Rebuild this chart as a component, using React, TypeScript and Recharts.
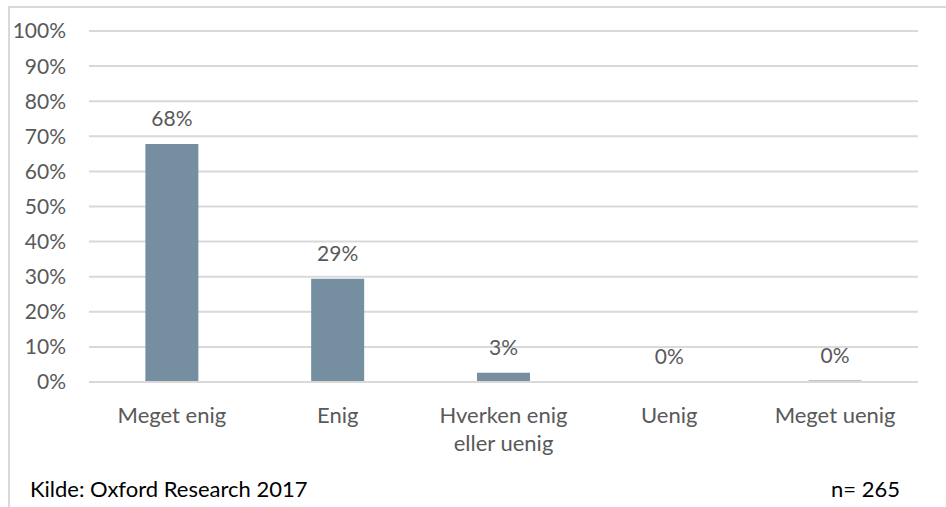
import React from "react";
import { ComposedChart, Bar, Line, XAxis, YAxis, CartesianGrid, LabelList } from "recharts";

const categories = ["Meget enig", "Enig", "Hverken enig\neller uenig", "Uenig", "Meget uenig"];
const shares = [67.8, 29.4, 2.6, 0, 0.4];
const yTicks = [0, 10, 20, 30, 40, 50, 60, 70, 80, 90, 100];

const data = categories.map((name, i) => ({ name, share: shares[i] }));

const FONT = "Lato, 'Liberation Sans', sans-serif";
const TEXT = "#595959";

function CategoryTick(props: any) {
  const { x, y, payload } = props;
  const lines = String(payload.value).split("\n");
  return (
    <text x={x} y={y} textAnchor="middle" fill={TEXT} fontFamily={FONT} fontSize={22}>
      {lines.map((line, i) => (
        <tspan key={i} x={x} dy={i === 0 ? 0 : 28}>
          {line}
        </tspan>
      ))}
    </text>
  );
}

function App() {
  return (
    <div style={{ position: "absolute", left: 0, top: 0, width: 946, height: 507, background: "#fff", overflow: "hidden" }}>
      <div
        style={{
          position: "absolute",
          left: 8,
          top: 6,
          width: 960,
          height: 520,
          borderLeft: "2px solid #d9d9d9",
          borderTop: "2px solid #d9d9d9",
        }}
      />
      <ComposedChart
        width={946}
        height={507}
        data={data}
        margin={{ top: 31, right: 28, bottom: 65, left: 0 }}
        barCategoryGap="34%"
      >
        <CartesianGrid vertical={false} stroke="#d9d9d9" strokeWidth={2} />
        <XAxis
          dataKey="name"
          axisLine={{ stroke: "#d9d9d9", strokeWidth: 2 }}
          tickLine={false}
          tickSize={0}
          height={60}
          interval={0}
          tick={(p: any) => <CategoryTick {...p} y={p.y + 39} />}
        />
        <YAxis
          domain={[0, 100]}
          ticks={yTicks}
          width={89}
          axisLine={false}
          tickLine={false}
          tickSize={0}
          tickMargin={23}
          tickFormatter={(v: number) => `${v}%`}
          tick={{ fill: TEXT, fontFamily: FONT, fontSize: 21 }}
        />
        <Bar dataKey="share" fill="#758FA1" isAnimationActive={false} />
        <Line
          dataKey="share"
          stroke="none"
          dot={false}
          activeDot={false}
          legendType="none"
          isAnimationActive={false}
        >
          <LabelList
            dataKey="share"
            position="top"
            offset={18}
            formatter={(v: any) => `${Math.round(Number(v))}%`}
            style={{ fill: TEXT, fontFamily: FONT, fontSize: 21 }}
          />
        </Line>
      </ComposedChart>
      <div style={{ position: "absolute", left: 30, top: 475, fontFamily: FONT, fontSize: 22, color: "#000", whiteSpace: "nowrap" }}>
        Kilde: Oxford Research 2017
      </div>
      <div style={{ position: "absolute", right: 46, top: 475, fontFamily: FONT, fontSize: 22, color: "#000", whiteSpace: "nowrap" }}>
        n= 265
      </div>
    </div>
  );
}

export default App;
